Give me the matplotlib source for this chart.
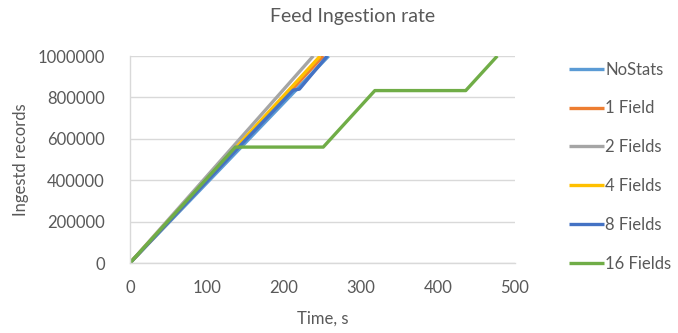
import matplotlib.pyplot as plt

plt.rcParams["font.family"] = ["Lato", "DejaVu Sans"]

series_names = ["NoStats", "1 Field", "2 Fields", "4 Fields", "8 Fields", "16 Fields"]
series_colors = ["#5B9BD5", "#ED7D31", "#A5A5A5", "#FFC000", "#4472C4", "#70AD47"]

# time (s) and ingested record counts per configuration
t_nostats = [0, 258]
v_nostats = [0, 1000000]
t_1field = [0, 251]
v_1field = [0, 1000000]
t_2fields = [0, 238]
v_2fields = [0, 1000000]
t_4fields = [0, 247]
v_4fields = [0, 1000000]
t_8fields = [0, 140, 212, 220, 256]
v_8fields = [0, 555000, 835000, 840000, 1000000]
t_16fields = [0, 137, 251, 318, 436, 477]
v_16fields = [0, 560000, 560000, 833000, 833000, 1000000]

times = [t_nostats, t_1field, t_2fields, t_4fields, t_8fields, t_16fields]
values = [v_nostats, v_1field, v_2fields, v_4fields, v_8fields, v_16fields]

x_ticks = [0, 100, 200, 300, 400, 500]
y_ticks = [0, 200000, 400000, 600000, 800000, 1000000]

text_color = "#595959"
grid_color = "#D9D9D9"

fig = plt.figure(figsize=(6.78, 3.33), dpi=100)
ax = fig.add_axes([0.1917, 0.2102, 0.5679, 0.6216])

for t, v, name, color in zip(times, values, series_names, series_colors):
    ax.plot(t, v, color=color, linewidth=2.4, label=name, solid_capstyle="butt",
            solid_joinstyle="round")

ax.set_xlim(0, 500)
ax.set_ylim(0, 1000000)
ax.set_xticks(x_ticks)
ax.set_yticks(y_ticks)
ax.set_xticklabels([str(x) for x in x_ticks])
ax.set_yticklabels([str(y) for y in y_ticks])
ax.tick_params(axis="both", length=0, labelsize=12, colors=text_color)
ax.tick_params(axis="x", pad=12)
ax.tick_params(axis="y", pad=18)

ax.grid(True, axis="y", color=grid_color, linewidth=1.0)
ax.set_axisbelow(True)
for side in ["top", "right"]:
    ax.spines[side].set_visible(False)
for side in ["left", "bottom"]:
    ax.spines[side].set_color(grid_color)
    ax.spines[side].set_linewidth(1.0)

ax.set_xlabel("Time, s", fontsize=12, color=text_color, labelpad=11)
ax.set_ylabel("Ingestd records", fontsize=12, color=text_color, labelpad=6)
fig.suptitle("Feed Ingestion rate", x=0.5 + 0.02, y=0.975, fontsize=14, color=text_color)

fig.legend(loc="upper left", bbox_to_anchor=(0.829, 0.835), frameon=False,
           fontsize=12, labelcolor=text_color, handlelength=2.1, handletextpad=0.1,
           labelspacing=1.37, borderaxespad=0)

fig.savefig("out.png", dpi=100)
